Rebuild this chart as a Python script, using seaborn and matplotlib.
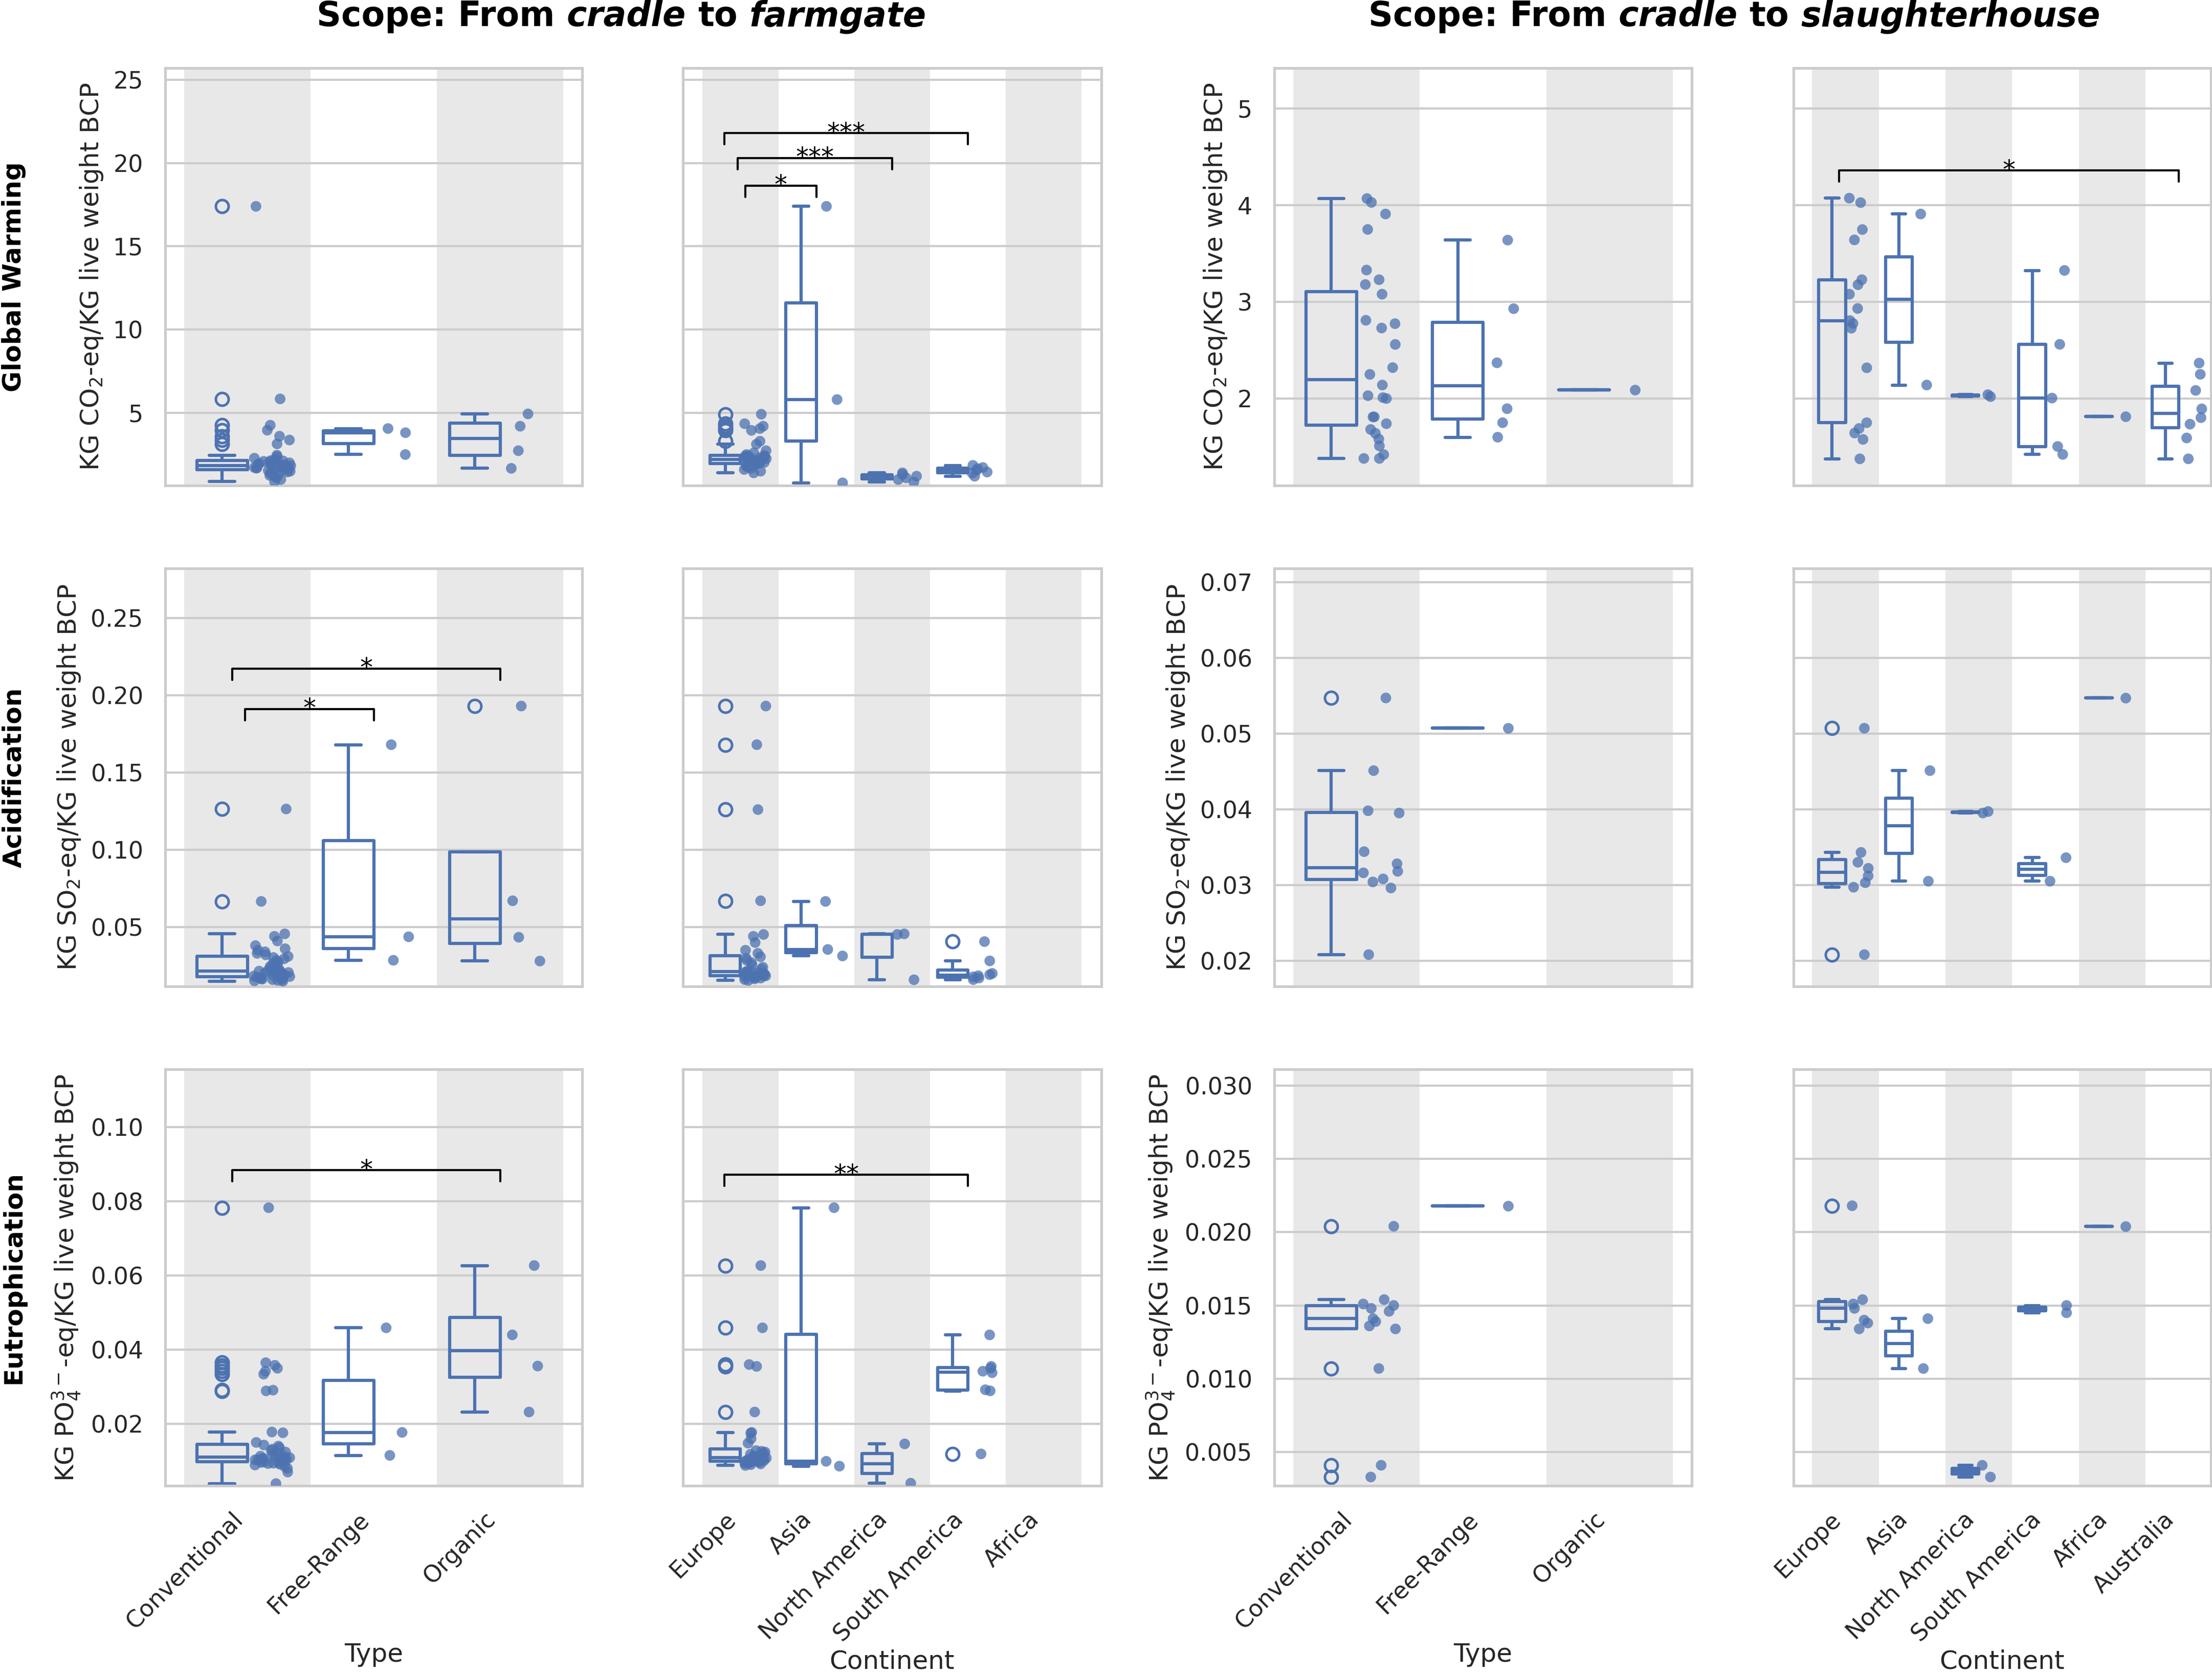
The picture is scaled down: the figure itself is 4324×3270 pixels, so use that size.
import numpy as np
import pandas as pd
import matplotlib
matplotlib.use("Agg")
import matplotlib.pyplot as plt
from matplotlib.offsetbox import TextArea, HPacker, AnchoredOffsetbox
import seaborn as sns

# categories
TYPES = ['Conventional', 'Free-Range', 'Organic']
CONT_FARM = ['Europe', 'Asia', 'North America', 'South America', 'Africa']
CONT_SLAUGHTER = ['Europe', 'Asia', 'North America', 'South America', 'Africa', 'Australia']

# ---- Global warming (KG CO2-eq / KG live weight) ----
gw_farm_type = {
    'Conventional': [0.87, 1.0, 1.1, 1.2, 1.25, 1.3, 1.38, 1.45, 1.5, 1.54, 1.57,
                     1.59, 1.62, 1.65, 1.68, 1.7, 1.72, 1.75, 1.78, 1.8, 1.83, 1.84,
                     1.86, 1.88, 1.9, 1.93, 1.96, 2.0, 2.03, 2.06, 2.09, 2.12, 2.14,
                     2.2, 2.28, 2.38, 2.46, 3.14, 3.37, 3.6, 3.96, 4.26, 5.84, 17.4],
    'Free-Range': [2.5, 3.81, 4.06],
    'Organic': [1.67, 2.73, 4.2, 4.94],
}
gw_farm_cont = {
    'Europe': [1.40, 1.50, 1.60, 1.67, 1.75, 1.80, 1.85, 1.88, 1.90, 1.93,
               1.95, 1.98, 2.00, 2.02, 2.05, 2.08, 2.10, 2.12, 2.15, 2.18,
               2.22, 2.25, 2.28, 2.30, 2.33, 2.36, 2.38, 2.40, 2.42, 2.45,
               2.50, 2.60, 2.73, 3.12, 3.30, 3.95, 4.06, 4.20, 4.35, 4.92],
    'Asia': [0.8, 5.8, 17.4],
    'North America': [0.85, 1.0, 1.1, 1.2, 1.3, 1.4],
    'South America': [1.2, 1.38, 1.45, 1.55, 1.65, 1.72, 1.85],
    'Africa': [],
}
gw_sl_type = {
    'Conventional': [1.38, 1.38, 1.42, 1.51, 1.58, 1.64, 1.68, 1.74, 1.81, 1.81,
                     2.0, 2.01, 2.03, 2.14, 2.25, 2.32, 2.56, 2.73, 2.775, 2.81,
                     3.08, 3.18, 3.23, 3.33, 3.75, 3.91, 4.03, 4.07],
    'Free-Range': [1.60, 1.75, 1.895, 2.37, 2.93, 3.64],
    'Organic': [2.09],
}
gw_sl_cont = {
    'Europe': [1.376, 1.577, 1.643, 1.69, 1.75, 2.318, 2.728, 2.777, 2.807,
               2.932, 3.08, 3.178, 3.23, 3.642, 3.749, 4.028, 4.074],
    'Asia': [2.14, 3.91],
    'North America': [2.02, 2.04],
    'South America': [1.422, 1.504, 2.005, 2.561, 3.326],
    'Africa': [1.814],
    'Australia': [1.376, 1.592, 1.735, 1.802, 1.893, 2.084, 2.251, 2.367],
}

# ---- Acidification (KG SO2-eq / KG live weight) ----
acid_farm_type = {
    'Conventional': [0.0150, 0.0152, 0.0155, 0.0158, 0.0160, 0.0163, 0.0166, 0.0169, 0.0172, 0.0175, 0.0178,
                     0.0180, 0.0183, 0.0186, 0.0190, 0.0194, 0.0198, 0.0202, 0.0206, 0.0210, 0.0213, 0.0215,
                     0.0218, 0.0225, 0.0235, 0.0245, 0.0255, 0.0265, 0.0275, 0.0285, 0.0295, 0.0303, 0.0310,
                     0.032, 0.033, 0.034, 0.035, 0.036, 0.038, 0.041, 0.044, 0.0456, 0.0666, 0.1264],
    'Free-Range': [0.0285, 0.0437, 0.168],
    'Organic': [0.028, 0.0434, 0.067, 0.193],
}
acid_farm_cont = {
    'Europe': [0.0155, 0.0160, 0.0165, 0.0170, 0.0173, 0.0176, 0.0179, 0.0182, 0.0184,
               0.0186, 0.0189, 0.0192, 0.0195, 0.0198, 0.0201, 0.0204, 0.0207, 0.0209,
               0.0212, 0.0218, 0.0228, 0.0240, 0.0255, 0.0270, 0.0285, 0.0298, 0.0308,
               0.033, 0.035, 0.040, 0.044, 0.0452, 0.067, 0.126, 0.168, 0.193],
    'Asia': [0.0313, 0.0355, 0.0666],
    'North America': [0.0159, 0.0452, 0.0456],
    'South America': [0.0160, 0.0170, 0.0178, 0.0185, 0.0192, 0.0200, 0.0281, 0.0406],
    'Africa': [],
}
acid_sl_type = {
    'Conventional': [0.0208, 0.0296, 0.0304, 0.0308, 0.0316, 0.0318, 0.0328, 0.0344,
                     0.0395, 0.0398, 0.0451, 0.0547],
    'Free-Range': [0.0507],
    'Organic': [],
}
acid_sl_cont = {
    'Europe': [0.0208, 0.0297, 0.0303, 0.0312, 0.0322, 0.0330, 0.0343, 0.0507],
    'Asia': [0.0305, 0.0451],
    'North America': [0.0395, 0.0397],
    'South America': [0.0305, 0.0336],
    'Africa': [0.0547],
    'Australia': [],
}

# ---- Eutrophication (KG PO4-eq / KG live weight) ----
eut_farm_type = {
    'Conventional': [0.0039, 0.0070, 0.0080, 0.0085, 0.0089, 0.0091, 0.0093, 0.0094, 0.0095, 0.0096, 0.0097,
                     0.0099, 0.0100, 0.0101, 0.0102, 0.0103, 0.0104, 0.0105, 0.0106, 0.0107, 0.0108, 0.0109,
                     0.0111, 0.0113, 0.0115, 0.0118, 0.0121, 0.0124, 0.0128, 0.0132, 0.0136, 0.0140, 0.0143,
                     0.0150, 0.0176, 0.0178, 0.0289, 0.0291, 0.0334, 0.0342, 0.0350, 0.0358, 0.0365, 0.0783],
    'Free-Range': [0.0115, 0.0177, 0.0459],
    'Organic': [0.0232, 0.0356, 0.0440, 0.0627],
}
eut_farm_cont = {
    'Europe': [0.0088, 0.0090, 0.0092, 0.0094, 0.0095, 0.0096, 0.0097, 0.0097, 0.0098,
               0.0099, 0.0100, 0.0101, 0.0102, 0.0103, 0.0104, 0.0105, 0.0107, 0.0108,
               0.0109, 0.0111, 0.0113, 0.0115, 0.0118, 0.0121, 0.0124, 0.0126, 0.0128,
               0.0148, 0.0160, 0.0175, 0.0177, 0.0232, 0.0355, 0.0360, 0.0459, 0.0627],
    'Asia': [0.0086, 0.0099, 0.0783],
    'North America': [0.0040, 0.0146],
    'South America': [0.0119, 0.0289, 0.0292, 0.0338, 0.0342, 0.0350, 0.0355, 0.0440],
    'Africa': [],
}
eut_sl_type = {
    'Conventional': [0.0033, 0.0041, 0.0107, 0.0134, 0.0136, 0.0139, 0.0141, 0.0146,
                     0.0148, 0.0150, 0.0151, 0.0154, 0.0204],
    'Free-Range': [0.0218],
    'Organic': [],
}
eut_sl_cont = {
    'Europe': [0.0134, 0.0138, 0.0140, 0.0148, 0.0151, 0.0154, 0.0218],
    'Asia': [0.0107, 0.0141],
    'North America': [0.0033, 0.0041],
    'South America': [0.0145, 0.0150],
    'Africa': [0.0204],
    'Australia': [],
}

# significance brackets: (group a, group b, bracket height, label, left-end shift)
sig_gw_farm_cont = [(0, 1, 18.65, '*', 0.065), (0, 2, 20.3, '***', -0.04), (0, 3, 21.8, '***', -0.21)]
sig_gw_sl_cont = [(0, 5, 4.36, '*', -0.1)]
sig_acid_farm_type = [(0, 2, 0.2172, '*', -0.12), (0, 1, 0.1911, '*', -0.02)]
sig_eut_farm_type = [(0, 2, 0.0884, '*', -0.12)]
sig_eut_farm_cont = [(0, 3, 0.0872, '**', -0.21)]

row_names = ['Global Warming', 'Acidification', 'Eutrophication']
ylabels = [r'KG CO$_2$-eq/KG live weight BCP',
           r'KG SO$_2$-eq/KG live weight BCP',
           r'KG PO$_4^{3-}$-eq/KG live weight BCP']

sns.set_theme(style="whitegrid")
plt.rcParams['font.family'] = ['DejaVu Sans']
BLUE = sns.color_palette('deep')[0]
BAND = '#e8e8e8'

fig = plt.figure(figsize=(4324 / 300, 3270 / 300), dpi=300)

col_pos = [(0.0747, 0.1885), (0.3087, 0.1892), (0.5761, 0.1887), (0.8108, 0.1887)]
row_pos = [(0.7098, 0.2495), (0.4104, 0.2498), (0.1119, 0.2489)]
xlims = [(-0.65, 2.65), (-0.76, 4.76), (-0.65, 2.65), (-0.78, 5.48)]


def long_df(groups, order):
    rows = []
    for cat in order:
        for v in groups.get(cat, []):
            rows.append({'cat': cat, 'value': v})
    return pd.DataFrame(rows, columns=['cat', 'value'])


def draw_panel(ax, groups, order, xlim, ylim, yticks, sig):
    df = long_df(groups, order)
    for i in range(0, len(order), 2):
        ax.axvspan(i - 0.5, i + 0.5, color=BAND, lw=0, zorder=0)
    pal = {'box': BLUE, 'strip': BLUE}
    sns.boxplot(data=df.assign(part='box'), x='cat', y='value', order=order,
                hue='part', hue_order=['box', 'strip'], palette=pal, dodge=True,
                width=0.8, fill=False, linewidth=1.5, legend=False, ax=ax,
                flierprops=dict(marker='o', markerfacecolor='none', markeredgecolor=BLUE,
                                markersize=6, markeredgewidth=1.2))
    sns.stripplot(data=df.assign(part='strip'), x='cat', y='value', order=order,
                  hue='part', hue_order=['box', 'strip'], palette=pal, dodge=True,
                  jitter=0.3, size=5, alpha=0.75, legend=False, ax=ax)
    ax.set_xlim(*xlim)
    ax.set_yticks(yticks)
    ax.set_ylim(*ylim)
    ax.xaxis.grid(False)
    ax.yaxis.grid(True, color='#cccccc', lw=1.0)
    ax.set_axisbelow(True)
    for s in ax.spines.values():
        s.set_color('#cccccc')
        s.set_linewidth(1.25)
    ax.set_xlabel('')
    ax.set_ylabel('')
    ax.tick_params(axis='both', length=0, pad=10.4, labelsize=11, labelcolor='#262626')
    leg = 0.027 * (ylim[1] - ylim[0])
    for a, b, h, lab, shift in sig:
        x1, x2 = a + shift, b
        ax.plot([x1, x1, x2, x2], [h - leg, h, h, h - leg], color='black', lw=1.0, zorder=5)
        ax.annotate(lab, xy=((x1 + x2) / 2, h), xytext=(0, -3.5), textcoords='offset points',
                    ha='center', va='baseline', fontsize=12, color='black')


panels = [
    [(gw_farm_type, TYPES, []), (gw_farm_cont, CONT_FARM, sig_gw_farm_cont),
     (gw_sl_type, TYPES, []), (gw_sl_cont, CONT_SLAUGHTER, sig_gw_sl_cont)],
    [(acid_farm_type, TYPES, sig_acid_farm_type), (acid_farm_cont, CONT_FARM, []),
     (acid_sl_type, TYPES, []), (acid_sl_cont, CONT_SLAUGHTER, [])],
    [(eut_farm_type, TYPES, sig_eut_farm_type), (eut_farm_cont, CONT_FARM, sig_eut_farm_cont),
     (eut_sl_type, TYPES, []), (eut_sl_cont, CONT_SLAUGHTER, [])],
]
ylims = [[(0.64, 25.7), (1.1, 5.42)],
         [(0.0116, 0.282), (0.0166, 0.0718)],
         [(0.0033, 0.1156), (0.0027, 0.0311)]]
yticks = [[[5, 10, 15, 20, 25], [2, 3, 4, 5]],
          [[0.05, 0.10, 0.15, 0.20, 0.25], [0.02, 0.03, 0.04, 0.05, 0.06, 0.07]],
          [[0.02, 0.04, 0.06, 0.08, 0.10], [0.005, 0.010, 0.015, 0.020, 0.025, 0.030]]]

for r in range(3):
    for c in range(4):
        left, width = col_pos[c]
        bottom, height = row_pos[r]
        ax = fig.add_axes([left, bottom, width, height])
        groups, order, sig = panels[r][c]
        scope = c // 2
        np.random.seed(10 * r + c)
        draw_panel(ax, groups, order, xlims[c], ylims[r][scope], yticks[r][scope], sig)
        if c % 2 == 1:
            ax.tick_params(labelleft=False)
        else:
            ax.set_ylabel(ylabels[r], fontsize=12, color='#262626')
        if r < 2:
            ax.tick_params(labelbottom=False)
        else:
            for lab in ax.get_xticklabels():
                lab.set_rotation(45)
                lab.set_ha('right')
            if c % 2 == 0:
                ax.set_xlabel('Type', fontsize=12, color='#262626')
            else:
                ax.set_xlabel('Continent', fontsize=12, color='#262626', labelpad=1.5)

for r in range(3):
    bottom, height = row_pos[r]
    fig.text(0.0062, bottom + height / 2, row_names[r], rotation=90, ha='center', va='center',
             fontsize=12, fontweight='bold', color='black')


def scope_title(xc, parts):
    boxes = [TextArea(t, textprops=dict(fontsize=16, fontweight='bold', fontstyle=st, color='black'))
             for t, st in parts]
    pack = HPacker(children=boxes, align='baseline', pad=0, sep=5.5)
    box = AnchoredOffsetbox(loc='center', child=pack, bbox_to_anchor=(xc, 0.990),
                            bbox_transform=fig.transFigure, frameon=False, pad=0, borderpad=0)
    fig.add_artist(box)


scope_title(0.281, [('Scope: From', 'normal'), ('cradle', 'italic'), ('to', 'normal'), ('farmgate', 'italic')])
scope_title(0.784, [('Scope: From', 'normal'), ('cradle', 'italic'), ('to', 'normal'), ('slaughterhouse', 'italic')])

fig.savefig('out.png', dpi=300)
